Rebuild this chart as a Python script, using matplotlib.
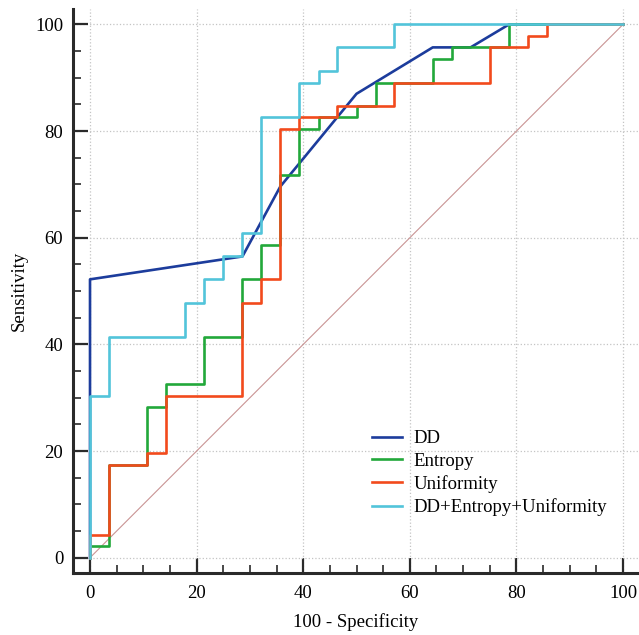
import matplotlib
matplotlib.use("Agg")
import matplotlib.pyplot as plt
from matplotlib.ticker import MultipleLocator

plt.rcParams['font.family'] = ['Liberation Serif', 'DejaVu Serif']

# ROC operating points (100 - specificity, sensitivity)
dd_fpr = [0, 0, 28.6, 35.7, 50, 64.3, 71.4, 78.6, 100]
dd_tpr = [0, 52.2, 56.5, 69.6, 87.0, 95.7, 95.7, 100, 100]

ent_fpr = [0, 0, 3.6, 10.7, 14.3, 21.4, 28.6, 32.1, 35.7, 39.3, 42.9, 50,
           53.6, 64.3, 67.9, 78.6, 100]
ent_tpr = [0, 2.2, 17.4, 28.3, 32.6, 41.3, 52.2, 58.7, 71.7, 80.4, 82.6, 84.8,
           89.1, 93.5, 95.7, 100, 100]

uni_fpr = [0, 0, 3.6, 10.7, 14.3, 28.6, 32.1, 35.7, 39.3, 46.4, 57.1, 75,
           82.1, 85.7, 100]
uni_tpr = [0, 4.3, 17.4, 19.6, 30.4, 47.8, 52.2, 80.4, 82.6, 84.8, 89.1, 95.7,
           97.8, 100, 100]

comb_fpr = [0, 0, 3.6, 17.9, 21.4, 25, 28.6, 32.1, 39.3, 42.9, 46.4, 57.1, 100]
comb_tpr = [0, 30.4, 41.3, 47.8, 52.2, 56.5, 60.9, 82.6, 89.1, 91.3, 95.7, 100, 100]

labels = ['DD', 'Entropy', 'Uniformity', 'DD+Entropy+Uniformity']
colors = ['#1c3c9c', '#22a83a', '#f24a1c', '#52c4da']

fig = plt.figure(figsize=(6.39, 6.35), dpi=100)
ax = fig.add_axes([73 / 639, 62 / 635, 1 - 73 / 639, (573 - 9) / 635])

# chance line
ax.plot([0, 100], [0, 100], color='#c99494', lw=0.8, zorder=1)

ax.plot(dd_fpr, dd_tpr, color=colors[0], lw=1.9, label=labels[0], zorder=2)
ax.plot(ent_fpr, ent_tpr, color=colors[1], lw=1.9, drawstyle='steps-post',
        label=labels[1], zorder=3)
ax.plot(uni_fpr, uni_tpr, color=colors[2], lw=1.9, drawstyle='steps-post',
        label=labels[2], zorder=4)
ax.plot(comb_fpr, comb_tpr, color=colors[3], lw=1.9, drawstyle='steps-post',
        label=labels[3], zorder=5)

ax.set_xlim(-3.19, 103.0)
ax.set_ylim(-2.87, 102.9)

ax.xaxis.set_major_locator(MultipleLocator(20))
ax.xaxis.set_minor_locator(MultipleLocator(5))
ax.yaxis.set_major_locator(MultipleLocator(20))
ax.yaxis.set_minor_locator(MultipleLocator(5))

ax.grid(True, which='major', color='#c4c4c4', linestyle=':', lw=0.9)
ax.set_axisbelow(True)

for s in ['top', 'right']:
    ax.spines[s].set_visible(False)
for s in ['left', 'bottom']:
    ax.spines[s].set_linewidth(2.2)
    ax.spines[s].set_color('#2a2a2a')

ax.tick_params(which='major', direction='in', length=11, width=1.6,
               color='#2a2a2a', labelsize=13.5, pad=7)
ax.tick_params(which='minor', direction='in', length=6, width=1.2,
               color='#2a2a2a')
ax.tick_params(axis='x', which='major', pad=9)

ax.set_xlabel('100 - Specificity', fontsize=13.5, labelpad=8)
ax.set_ylabel('Sensitivity', fontsize=13.5, labelpad=5)

ax.legend(loc='upper left', bbox_to_anchor=(372 / 639, 1 - 430 / 635),
          bbox_transform=fig.transFigure, frameon=False, fontsize=13.5,
          borderpad=0, borderaxespad=0, handlelength=1.6,
          handletextpad=0.6, labelspacing=0.29)

fig.savefig('out.png', dpi=100)
